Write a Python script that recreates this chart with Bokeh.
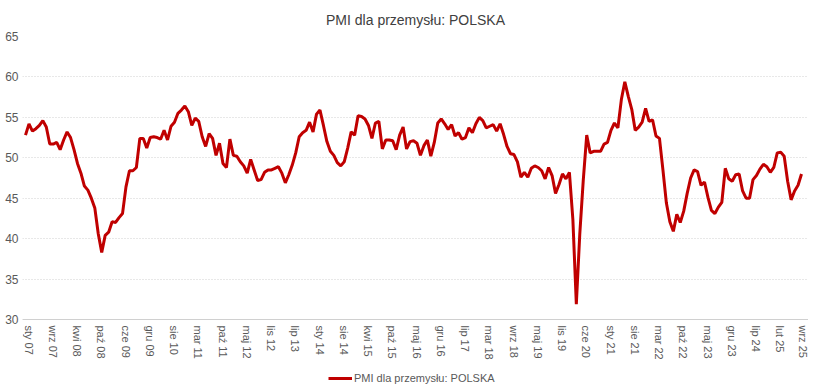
from bokeh.plotting import figure
from bokeh.models import Range1d, Legend, LegendItem, FixedTicker
from bokeh.embed import file_html
from bokeh.resources import INLINE

# Monthly PMI for Polish manufacturing, Jan 2007 - Sep 2025
pmi_2007 = [52.8, 54.2, 53.3, 53.6, 54.0, 54.6, 53.8, 51.7, 51.7, 51.9, 51.0, 52.2]
pmi_2008 = [53.2, 52.5, 51.0, 49.3, 48.1, 46.5, 46.0, 45.0, 43.8, 40.6, 38.3, 40.4]
pmi_2009 = [40.8, 42.1, 42.0, 42.6, 43.1, 46.4, 48.4, 48.4, 48.8, 52.4, 52.4, 51.2]
pmi_2010 = [52.5, 52.6, 52.5, 52.3, 53.4, 52.2, 53.9, 54.4, 55.5, 55.9, 56.4, 55.7]
pmi_2011 = [54.0, 54.9, 54.5, 52.6, 51.4, 53.0, 52.4, 50.3, 51.8, 49.3, 48.8, 52.3]
pmi_2012 = [50.3, 50.2, 49.5, 49.0, 48.1, 49.8, 48.5, 47.2, 47.3, 48.2, 48.5, 48.5]
pmi_2013 = [48.7, 48.9, 48.1, 46.9, 47.9, 49.1, 50.6, 52.6, 53.1, 53.4, 54.4, 53.2]
pmi_2014 = [55.4, 55.9, 54.0, 52.0, 50.8, 50.3, 49.4, 49.0, 49.5, 51.2, 53.2, 52.8]
pmi_2015 = [55.2, 55.1, 54.8, 54.0, 52.4, 54.3, 54.5, 51.1, 52.2, 52.2, 52.1, 51.0]
pmi_2016 = [52.8, 53.8, 51.1, 52.0, 52.1, 51.8, 50.3, 51.5, 52.2, 50.2, 51.9, 54.3]
pmi_2017 = [54.8, 54.2, 53.5, 54.1, 52.7, 53.1, 52.3, 52.5, 53.7, 53.1, 54.2, 55.0]
pmi_2018 = [54.6, 53.7, 53.9, 54.1, 53.3, 54.2, 52.9, 51.4, 50.5, 50.4, 49.5, 47.6]
pmi_2019 = [48.2, 47.6, 48.7, 49.0, 48.8, 48.4, 47.4, 48.8, 47.8, 45.6, 46.7, 48.0]
pmi_2020 = [47.4, 48.2, 42.4, 31.9, 40.6, 47.2, 52.8, 50.6, 50.8, 50.8, 50.8, 51.7]
pmi_2021 = [51.9, 53.4, 54.3, 53.7, 57.2, 59.4, 57.6, 56.0, 53.4, 53.8, 54.4, 56.1]
pmi_2022 = [54.5, 54.7, 52.7, 52.4, 48.5, 44.4, 42.1, 40.9, 43.0, 42.0, 43.4, 45.6]
pmi_2023 = [47.5, 48.5, 48.3, 46.6, 47.0, 45.1, 43.5, 43.1, 43.9, 44.5, 48.7, 47.4]
pmi_2024 = [47.1, 47.9, 48.0, 45.9, 45.0, 45.0, 47.3, 47.8, 48.6, 49.2, 48.9, 48.2]
pmi_2025 = [48.8, 50.6, 50.7, 50.2, 47.1, 44.8, 45.9, 46.6, 48.0]

x_tick_labels = ["sty 07", "wrz 07", "kwi 08", "paź 08", "cze 09", "gru 09", "sie 10",
                 "mar 11", "paź 11", "maj 12", "lis 12", "lip 13", "sty 14", "sie 14",
                 "kwi 15", "paź 15", "maj 16", "gru 16", "lip 17", "mar 18", "wrz 18",
                 "maj 19", "lis 19", "cze 20", "sty 21", "sie 21", "mar 22", "paź 22",
                 "maj 23", "gru 23", "lip 24", "lut 25", "wrz 25"]
x_label_every = 7  # months between shown labels
y_ticks = [30, 35, 40, 45, 50, 55, 60, 65]

series_name = "PMI dla przemysłu: POLSKA"

values = (pmi_2007 + pmi_2008 + pmi_2009 + pmi_2010 + pmi_2011 + pmi_2012 + pmi_2013 +
          pmi_2014 + pmi_2015 + pmi_2016 + pmi_2017 + pmi_2018 + pmi_2019 + pmi_2020 +
          pmi_2021 + pmi_2022 + pmi_2023 + pmi_2024 + pmi_2025)
months = list(range(len(values)))

FONT = "Liberation Sans"
GRAY = "#595959"
LABEL_SHIFT = 0.9   # rotated labels sit just right of their month

# frame spans the plot plus the label/legend strip below it: 283px for 65..30,
# then 65px more below the value 30 for the rotated labels and the legend
px_per_unit = 283 / (y_ticks[-1] - y_ticks[0])
y_bottom = y_ticks[0] - 65 / px_per_unit

p = figure(width=808, height=386, output_backend="svg", toolbar_location=None,
           x_range=Range1d(-0.87, len(values) + 1.02),
           y_range=Range1d(y_bottom, y_ticks[-1]),
           title=series_name)
p.title.align = "center"
p.title.text_font = FONT
p.title.text_font_size = "14px"
p.title.text_font_style = "normal"
p.title.text_color = "#404040"
p.title.offset = 0
p.title.standoff = 18

p.outline_line_color = None
p.background_fill_color = "white"
p.border_fill_color = "white"
p.min_border_left = 22
p.min_border_right = 0
p.min_border_top = 36
p.min_border_bottom = 2

p.xgrid.visible = False
p.ygrid.grid_line_color = "#d0d0d0"
p.ygrid.grid_line_dash = "1 2"
p.ygrid.grid_line_width = 1

p.yaxis.ticker = FixedTicker(ticks=y_ticks)
p.yaxis.axis_line_color = None
p.yaxis.major_tick_line_color = None
p.yaxis.major_tick_out = 0
p.yaxis.minor_tick_line_color = None
p.yaxis.major_label_text_font = FONT
p.yaxis.major_label_text_font_size = "12px"
p.yaxis.major_label_text_color = GRAY
p.yaxis.major_label_standoff = 4

tick_pos = [i * x_label_every + LABEL_SHIFT for i in range(len(x_tick_labels))]
p.xaxis.fixed_location = y_ticks[0]
p.xaxis.ticker = FixedTicker(ticks=tick_pos)
p.xaxis.major_label_overrides = {t: lab for t, lab in zip(tick_pos, x_tick_labels)}
p.xaxis.major_label_orientation = "vertical"
p.xaxis.axis_line_color = "#d0d0d0"
p.xaxis.major_tick_line_color = None
p.xaxis.major_tick_out = 0
p.xaxis.minor_tick_line_color = None
p.xaxis.major_label_text_font = FONT
p.xaxis.major_label_text_font_size = "11px"
p.xaxis.major_label_text_color = GRAY
p.xaxis.major_label_standoff = 6

r = p.line(months, values, line_color="#C00000", line_width=3)

legend = Legend(items=[LegendItem(label=series_name, renderers=[r])],
                orientation="horizontal", location=(306, 0),
                border_line_color=None, background_fill_alpha=0,
                label_text_font=FONT, label_text_font_size="11px",
                label_text_color=GRAY, glyph_width=24, glyph_height=12,
                label_standoff=2, padding=0, margin=0, spacing=0)
p.add_layout(legend, "center")

open("out.html", "w").write(file_html(p, INLINE))
